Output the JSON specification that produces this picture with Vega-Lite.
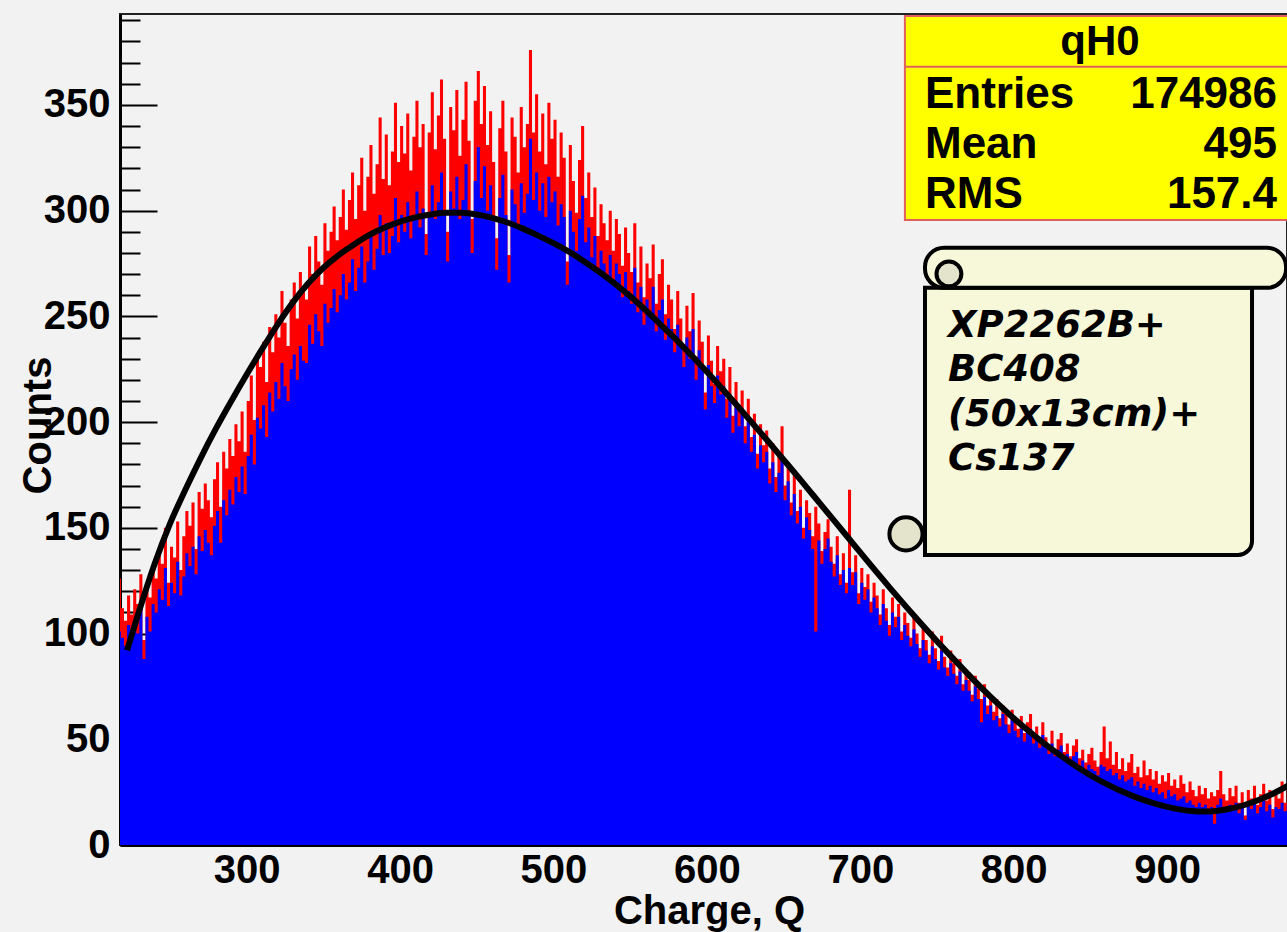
{
"$schema": "https://vega.github.io/schema/vega-lite/v6.json",
"width": 1167, "height": 831,
"autosize": "none",
"padding": {"left": 120, "top": 14, "right": 0, "bottom": 87},
"background": "#f2f2f2",
"config": {
 "view": {"fill": "#f2f2f2", "stroke": "#222222", "strokeWidth": 2},
 "axis": {"labelFont": "Liberation Sans", "labelFontWeight": "bold", "labelFontSize": 40, "labelColor": "#000000",
  "titleFont": "Liberation Sans", "titleFontWeight": "bold", "titleFontSize": 40, "titleColor": "#000000",
  "domainColor": "#000000", "domainWidth": 3, "tickColor": "#000000", "tickWidth": 2, "grid": false, "zindex": 1, "labelFlush": false, "labelOverlap": false}
},
"datasets": {
"hist": [
{"q":216,"r":126,"b":101},{"q":218,"r":112,"b":98},{"q":220,"r":106,"b":94},{"q":222,"r":118,"b":104},{"q":224,"r":109,"b":97},
{"q":226,"r":121,"b":106},{"q":228,"r":114,"b":100},{"q":230,"r":128,"b":112},{"q":232,"r":97,"b":88},{"q":234,"r":122,"b":108},
{"q":236,"r":117,"b":101},{"q":238,"r":131,"b":114},{"q":240,"r":126,"b":110},{"q":242,"r":138,"b":121},{"q":244,"r":133,"b":116},
{"q":246,"r":150,"b":131},{"q":248,"r":124,"b":113},{"q":250,"r":141,"b":124},{"q":252,"r":136,"b":119},{"q":254,"r":153,"b":134},
{"q":256,"r":130,"b":118},{"q":258,"r":146,"b":127},{"q":260,"r":158,"b":138},{"q":262,"r":151,"b":132},{"q":264,"r":162,"b":141},
{"q":266,"r":140,"b":128},{"q":268,"r":167,"b":146},{"q":270,"r":159,"b":139},{"q":272,"r":171,"b":149},{"q":274,"r":163,"b":143},
{"q":276,"r":155,"b":137},{"q":278,"r":173,"b":151},{"q":280,"r":181,"b":158},{"q":282,"r":160,"b":143},{"q":284,"r":186,"b":163},
{"q":286,"r":178,"b":156},{"q":288,"r":192,"b":168},{"q":290,"r":184,"b":161},{"q":292,"r":199,"b":174},{"q":294,"r":191,"b":167},
{"q":296,"r":205,"b":179},{"q":298,"r":186,"b":166},{"q":300,"r":210,"b":184},{"q":302,"r":222,"b":194},{"q":304,"r":201,"b":180},
{"q":306,"r":231,"b":202},{"q":308,"r":226,"b":197},{"q":310,"r":238,"b":208},{"q":312,"r":219,"b":193},{"q":314,"r":245,"b":214},
{"q":316,"r":233,"b":205},{"q":318,"r":251,"b":219},{"q":320,"r":240,"b":211},{"q":322,"r":262,"b":228},{"q":324,"r":247,"b":217},
{"q":326,"r":236,"b":210},{"q":328,"r":258,"b":225},{"q":330,"r":266,"b":232},{"q":332,"r":249,"b":220},{"q":334,"r":271,"b":236},
{"q":336,"r":262,"b":229},{"q":338,"r":258,"b":228},{"q":340,"r":283,"b":246},{"q":342,"r":270,"b":237},{"q":344,"r":288,"b":251},
{"q":346,"r":276,"b":243},{"q":348,"r":265,"b":236},{"q":350,"r":294,"b":256},{"q":352,"r":281,"b":247},{"q":354,"r":290,"b":254},
{"q":356,"r":302,"b":263},{"q":358,"r":286,"b":252},{"q":360,"r":297,"b":260},{"q":362,"r":310,"b":270},{"q":364,"r":291,"b":258},
{"q":366,"r":305,"b":266},{"q":368,"r":318,"b":277},{"q":370,"r":296,"b":262},{"q":372,"r":312,"b":273},{"q":374,"r":325,"b":283},
{"q":376,"r":300,"b":266},{"q":378,"r":316,"b":276},{"q":380,"r":331,"b":289},{"q":382,"r":308,"b":272},{"q":384,"r":322,"b":282},
{"q":386,"r":344,"b":298},{"q":388,"r":315,"b":279},{"q":390,"r":336,"b":294},{"q":392,"r":312,"b":280},{"q":394,"r":328,"b":288},
{"q":396,"r":351,"b":306},{"q":398,"r":323,"b":285},{"q":400,"r":340,"b":298},{"q":402,"r":327,"b":290},{"q":404,"r":346,"b":304},
{"q":406,"r":319,"b":287},{"q":408,"r":335,"b":296},{"q":410,"r":352,"b":309},{"q":412,"r":330,"b":292},{"q":414,"r":341,"b":301},
{"q":416,"r":289,"b":279},{"q":418,"r":337,"b":298},{"q":420,"r":356,"b":312},{"q":422,"r":329,"b":296},{"q":424,"r":345,"b":304},
{"q":426,"r":362,"b":318},{"q":428,"r":334,"b":299},{"q":430,"r":290,"b":276},{"q":432,"r":349,"b":309},{"q":434,"r":338,"b":301},
{"q":436,"r":357,"b":316},{"q":438,"r":326,"b":296},{"q":440,"r":343,"b":305},{"q":442,"r":361,"b":322},{"q":444,"r":333,"b":300},
{"q":446,"r":296,"b":280},{"q":448,"r":352,"b":314},{"q":450,"r":366,"b":330},{"q":452,"r":341,"b":306},{"q":454,"r":359,"b":321},
{"q":456,"r":331,"b":300},{"q":458,"r":347,"b":312},{"q":460,"r":323,"b":295},{"q":462,"r":287,"b":272},{"q":464,"r":339,"b":306},
{"q":466,"r":352,"b":317},{"q":468,"r":328,"b":298},{"q":470,"r":279,"b":266},{"q":472,"r":344,"b":310},{"q":474,"r":335,"b":303},
{"q":476,"r":318,"b":292},{"q":478,"r":349,"b":313},{"q":480,"r":330,"b":299},{"q":482,"r":341,"b":308},{"q":484,"r":376,"b":334},
{"q":486,"r":337,"b":305},{"q":488,"r":355,"b":318},{"q":490,"r":328,"b":300},{"q":492,"r":346,"b":313},{"q":494,"r":322,"b":297},
{"q":496,"r":351,"b":316},{"q":498,"r":334,"b":304},{"q":500,"r":343,"b":309},{"q":502,"r":316,"b":293},{"q":504,"r":337,"b":303},
{"q":506,"r":325,"b":297},{"q":508,"r":276,"b":265},{"q":510,"r":331,"b":300},{"q":512,"r":314,"b":290},{"q":514,"r":299,"b":281},
{"q":516,"r":324,"b":296},{"q":518,"r":340,"b":307},{"q":520,"r":306,"b":285},{"q":522,"r":318,"b":292},{"q":524,"r":297,"b":278},
{"q":526,"r":311,"b":288},{"q":528,"r":288,"b":272},{"q":530,"r":303,"b":281},{"q":532,"r":294,"b":275},{"q":534,"r":286,"b":268},
{"q":536,"r":300,"b":279},{"q":538,"r":281,"b":265},{"q":540,"r":296,"b":275},{"q":542,"r":289,"b":270},{"q":544,"r":274,"b":259},
{"q":546,"r":292,"b":271},{"q":548,"r":280,"b":262},{"q":550,"r":271,"b":256},{"q":552,"r":294,"b":273},{"q":554,"r":266,"b":252},
{"q":556,"r":283,"b":264},{"q":558,"r":259,"b":246},{"q":560,"r":275,"b":258},{"q":562,"r":268,"b":251},{"q":564,"r":284,"b":264},
{"q":566,"r":256,"b":243},{"q":568,"r":270,"b":253},{"q":570,"r":277,"b":258},{"q":572,"r":251,"b":239},{"q":574,"r":265,"b":249},
{"q":576,"r":258,"b":244},{"q":578,"r":244,"b":233},{"q":580,"r":262,"b":246},{"q":582,"r":249,"b":236},{"q":584,"r":236,"b":226},
{"q":586,"r":255,"b":240},{"q":588,"r":243,"b":230},{"q":590,"r":261,"b":244},{"q":592,"r":231,"b":220},{"q":594,"r":248,"b":234},
{"q":596,"r":238,"b":226},{"q":598,"r":214,"b":206},{"q":600,"r":241,"b":227},{"q":602,"r":229,"b":217},{"q":604,"r":218,"b":209},
{"q":606,"r":236,"b":222},{"q":608,"r":224,"b":213},{"q":610,"r":230,"b":217},{"q":612,"r":211,"b":202},{"q":614,"r":226,"b":213},
{"q":616,"r":203,"b":195},{"q":618,"r":219,"b":207},{"q":620,"r":207,"b":198},{"q":622,"r":215,"b":204},{"q":624,"r":198,"b":190},
{"q":626,"r":211,"b":200},{"q":628,"r":193,"b":186},{"q":630,"r":204,"b":194},{"q":632,"r":185,"b":178},{"q":634,"r":199,"b":189},
{"q":636,"r":189,"b":181},{"q":638,"r":196,"b":186},{"q":640,"r":178,"b":171},{"q":642,"r":190,"b":181},{"q":644,"r":174,"b":167},
{"q":646,"r":186,"b":176},{"q":648,"r":198,"b":184},{"q":650,"r":170,"b":163},{"q":652,"r":181,"b":172},{"q":654,"r":162,"b":156},
{"q":656,"r":175,"b":166},{"q":658,"r":158,"b":152},{"q":660,"r":168,"b":160},{"q":662,"r":150,"b":145},{"q":664,"r":163,"b":155},
{"q":666,"r":157,"b":149},{"q":668,"r":146,"b":140},{"q":670,"r":160,"b":101},{"q":672,"r":152,"b":144},{"q":674,"r":139,"b":133},
{"q":676,"r":148,"b":140},{"q":678,"r":154,"b":145},{"q":680,"r":141,"b":134},{"q":682,"r":133,"b":127},{"q":684,"r":146,"b":137},
{"q":686,"r":128,"b":123},{"q":688,"r":138,"b":130},{"q":690,"r":124,"b":119},{"q":692,"r":168,"b":131},{"q":694,"r":129,"b":123},
{"q":696,"r":137,"b":129},{"q":698,"r":119,"b":114},{"q":700,"r":131,"b":124},{"q":702,"r":122,"b":116},{"q":704,"r":128,"b":121},
{"q":706,"r":115,"b":110},{"q":708,"r":124,"b":117},{"q":710,"r":118,"b":112},{"q":712,"r":109,"b":104},{"q":714,"r":121,"b":114},
{"q":716,"r":112,"b":106},{"q":718,"r":104,"b":99},{"q":720,"r":117,"b":110},{"q":722,"r":108,"b":103},{"q":724,"r":114,"b":108},
{"q":726,"r":101,"b":97},{"q":728,"r":110,"b":104},{"q":730,"r":105,"b":99},{"q":732,"r":98,"b":94},{"q":734,"r":109,"b":102},
{"q":736,"r":100,"b":95},{"q":738,"r":93,"b":89},{"q":740,"r":104,"b":97},{"q":742,"r":97,"b":92},{"q":744,"r":90,"b":86},
{"q":746,"r":101,"b":94},{"q":748,"r":93,"b":88},{"q":750,"r":87,"b":83},{"q":752,"r":99,"b":92},{"q":754,"r":89,"b":84},
{"q":756,"r":84,"b":80},{"q":758,"r":92,"b":86},{"q":760,"r":86,"b":81},{"q":762,"r":80,"b":76},{"q":764,"r":88,"b":82},
{"q":766,"r":76,"b":73},{"q":768,"r":83,"b":78},{"q":770,"r":78,"b":73},{"q":772,"r":71,"b":68},{"q":774,"r":80,"b":75},
{"q":776,"r":74,"b":69},{"q":778,"r":69,"b":58},{"q":780,"r":76,"b":70},{"q":782,"r":66,"b":62},{"q":784,"r":71,"b":66},
{"q":786,"r":63,"b":59},{"q":788,"r":69,"b":61},{"q":790,"r":60,"b":56},{"q":792,"r":66,"b":62},{"q":794,"r":62,"b":57},
{"q":796,"r":57,"b":53},{"q":798,"r":64,"b":59},{"q":800,"r":59,"b":54},{"q":802,"r":55,"b":51},{"q":804,"r":61,"b":55},
{"q":806,"r":53,"b":49},{"q":808,"r":58,"b":53},{"q":810,"r":62,"b":55},{"q":812,"r":52,"b":48},{"q":814,"r":56,"b":51},
{"q":816,"r":49,"b":46},{"q":818,"r":58,"b":52},{"q":820,"r":51,"b":47},{"q":822,"r":47,"b":43},{"q":824,"r":54,"b":48},
{"q":826,"r":45,"b":42},{"q":828,"r":50,"b":45},{"q":830,"r":53,"b":47},{"q":832,"r":44,"b":41},{"q":834,"r":48,"b":43},
{"q":836,"r":42,"b":38},{"q":838,"r":47,"b":42},{"q":840,"r":50,"b":44},{"q":842,"r":41,"b":37},{"q":844,"r":45,"b":40},
{"q":846,"r":39,"b":35},{"q":848,"r":43,"b":38},{"q":850,"r":46,"b":36},{"q":852,"r":40,"b":35},{"q":854,"r":37,"b":33},
{"q":856,"r":44,"b":38},{"q":858,"r":56,"b":37},{"q":860,"r":41,"b":35},{"q":862,"r":49,"b":36},{"q":864,"r":38,"b":33},
{"q":866,"r":44,"b":34},{"q":868,"r":36,"b":31},{"q":870,"r":41,"b":33},{"q":872,"r":35,"b":30},{"q":874,"r":39,"b":31},
{"q":876,"r":43,"b":32},{"q":878,"r":34,"b":28},{"q":880,"r":37,"b":30},{"q":882,"r":32,"b":27},{"q":884,"r":40,"b":29},
{"q":886,"r":33,"b":26},{"q":888,"r":36,"b":28},{"q":890,"r":31,"b":25},{"q":892,"r":35,"b":27},{"q":894,"r":29,"b":24},
{"q":896,"r":33,"b":25},{"q":898,"r":30,"b":22},{"q":900,"r":34,"b":26},{"q":902,"r":28,"b":23},{"q":904,"r":31,"b":24},
{"q":906,"r":27,"b":21},{"q":908,"r":33,"b":22},{"q":910,"r":29,"b":23},{"q":912,"r":25,"b":20},{"q":914,"r":30,"b":21},
{"q":916,"r":26,"b":19},{"q":918,"r":23,"b":18},{"q":920,"r":28,"b":20},{"q":922,"r":24,"b":18},{"q":924,"r":27,"b":19},
{"q":926,"r":22,"b":17},{"q":928,"r":25,"b":18},{"q":930,"r":23,"b":10},{"q":932,"r":26,"b":19},{"q":934,"r":35,"b":22},
{"q":936,"r":24,"b":18},{"q":938,"r":21,"b":16},{"q":940,"r":27,"b":19},{"q":942,"r":23,"b":17},{"q":944,"r":28,"b":20},
{"q":946,"r":20,"b":15},{"q":948,"r":25,"b":18},{"q":950,"r":14,"b":12},{"q":952,"r":26,"b":19},{"q":954,"r":22,"b":17},
{"q":956,"r":28,"b":20},{"q":958,"r":19,"b":15},{"q":960,"r":24,"b":18},{"q":962,"r":29,"b":21},{"q":964,"r":21,"b":16},
{"q":966,"r":26,"b":19},{"q":968,"r":17,"b":13},{"q":970,"r":25,"b":18},{"q":972,"r":22,"b":17},{"q":974,"r":30,"b":20},
{"q":976,"r":20,"b":16},{"q":978,"r":27,"b":19},{"q":980,"r":24,"b":18}
],
"fit": [
{"q":222,"f":92},{"q":230,"f":111},{"q":240,"f":133},{"q":250,"f":152},{"q":260,"f":168},{"q":270,"f":183},{"q":280,"f":197},
{"q":290,"f":210},{"q":300,"f":222.5},{"q":310,"f":234.5},{"q":320,"f":246},{"q":330,"f":256.5},{"q":340,"f":265.5},{"q":350,"f":273},
{"q":360,"f":279},{"q":370,"f":284},{"q":380,"f":288.5},{"q":390,"f":292},{"q":400,"f":294.8},{"q":410,"f":296.8},{"q":420,"f":298.2},
{"q":430,"f":299},{"q":440,"f":299},{"q":450,"f":298.2},{"q":460,"f":296.6},{"q":470,"f":294.4},{"q":480,"f":291.5},{"q":490,"f":288.2},
{"q":500,"f":284.6},{"q":510,"f":280.6},{"q":520,"f":276},{"q":530,"f":271},{"q":540,"f":265.5},{"q":550,"f":259.5},{"q":560,"f":253},
{"q":570,"f":246},{"q":580,"f":239},{"q":590,"f":231.5},{"q":600,"f":223.8},{"q":610,"f":215.8},{"q":620,"f":207.6},{"q":630,"f":199.2},
{"q":640,"f":190.8},{"q":650,"f":182.2},{"q":660,"f":173.6},{"q":670,"f":164.8},{"q":680,"f":156},{"q":690,"f":147.2},{"q":700,"f":138.4},
{"q":710,"f":129.6},{"q":720,"f":121},{"q":730,"f":112.6},{"q":740,"f":104.4},{"q":750,"f":96.4},{"q":760,"f":88.6},{"q":770,"f":81},
{"q":780,"f":73.6},{"q":790,"f":66.6},{"q":800,"f":60},{"q":810,"f":53.8},{"q":820,"f":48},{"q":830,"f":42.6},{"q":840,"f":37.6},
{"q":850,"f":33},{"q":860,"f":29},{"q":870,"f":25.5},{"q":880,"f":22.5},{"q":890,"f":20},{"q":900,"f":18},{"q":910,"f":16.6},
{"q":920,"f":15.9},{"q":930,"f":16},{"q":940,"f":17},{"q":950,"f":18.8},{"q":960,"f":21.4},{"q":970,"f":24.6},{"q":980,"f":28.5}
]
},
"layer": [
 {"data": {"name": "hist"},
  "mark": {"type": "area", "interpolate": "step-after", "color": "#ff0000", "clip": true},
  "encoding": {
   "x": {"field": "q", "type": "quantitative", "scale": {"domain": [217.4, 978.2], "nice": false, "zero": false, "padding": 0},
    "axis": {"orient": "bottom", "values": [300,400,500,600,700,800,900], "tickSize": -26, "labelPadding": 63, "labelBaseline": "alphabetic",
     "title": "Charge, Q", "titleX": 589, "titleY": 78, "titleAlign": "center", "titleBaseline": "alphabetic", "titleAnchor": null}},
   "y": {"field": "r", "type": "quantitative", "scale": {"domain": [0, 393], "nice": false},
    "axis": {"orient": "left", "values": [0,50,100,150,200,250,300,350], "tickSize": -37, "labelPadding": 47,
     "title": "Counts", "titleX": -82, "titleY": 411, "titleAngle": 270, "titleAlign": "center", "titleBaseline": "middle"}}
  }},
 {"data": {"name": "hist"},
  "mark": {"type": "area", "interpolate": "step-after", "color": "#0000ff", "clip": true},
  "encoding": {
   "x": {"field": "q", "type": "quantitative",
    "axis": {"orient": "bottom", "values": [220,240,260,280,320,340,360,380,420,440,460,480,520,540,560,580,620,640,660,680,720,740,760,780,820,840,860,880,920,940,960], "tickSize": -13, "labels": false, "domain": false, "title": null}},
   "y": {"field": "b", "type": "quantitative",
    "axis": {"orient": "left", "values": [10,20,30,40,60,70,80,90,110,120,130,140,160,170,180,190,210,220,230,240,260,270,280,290,310,320,330,340,360,370,380,390], "tickSize": -20, "labels": false, "domain": false, "title": null}}
  }},
 {"data": {"name": "fit"},
  "mark": {"type": "line", "interpolate": "monotone", "color": "#000000", "strokeWidth": 6, "clip": true},
  "encoding": {
   "x": {"field": "q", "type": "quantitative", "axis": null},
   "y": {"field": "f", "type": "quantitative", "axis": null}
  }},
 {"data": {"values": [{}]},
  "mark": {"type": "rect", "fill": "#ffff00", "stroke": "#e06060", "strokeWidth": 2, "clip": false},
  "encoding": {
   "x": {"datum": 729.1, "type": "quantitative", "axis": null}, "x2": {"datum": 995},
   "y": {"datum": 392.1, "type": "quantitative", "axis": null}, "y2": {"datum": 295.6}
  }},
 {"data": {"values": [{}]},
  "mark": {"type": "rule", "stroke": "#e06060", "strokeWidth": 2, "clip": false},
  "encoding": {
   "x": {"datum": 729.1, "type": "quantitative", "axis": null}, "x2": {"datum": 995},
   "y": {"datum": 368, "type": "quantitative", "axis": null}
  }},
 {"data": {"values": [{}]},
  "mark": {"type": "text", "text": "qH0", "font": "Liberation Sans", "fontWeight": "bold", "fontSize": 42, "align": "center", "baseline": "alphabetic", "color": "#000000", "clip": false},
  "encoding": {
   "x": {"datum": 856.3, "type": "quantitative", "axis": null},
   "y": {"datum": 373.7, "type": "quantitative", "axis": null}
  }},
 {"data": {"values": [{}]},
  "mark": {"type": "text", "text": ["Entries", "Mean", "RMS"], "lineHeight": 50, "font": "Liberation Sans", "fontWeight": "bold", "fontSize": 44, "align": "left", "baseline": "alphabetic", "color": "#000000", "clip": false},
  "encoding": {
   "x": {"datum": 742.2, "type": "quantitative", "axis": null},
   "y": {"datum": 348.6, "type": "quantitative", "axis": null}
  }},
 {"data": {"values": [{}]},
  "mark": {"type": "text", "text": ["174986", "495", "157.4"], "lineHeight": 50, "font": "Liberation Sans", "fontWeight": "bold", "fontSize": 44, "align": "right", "baseline": "alphabetic", "color": "#000000", "clip": false},
  "encoding": {
   "x": {"datum": 971.7, "type": "quantitative", "axis": null},
   "y": {"datum": 348.6, "type": "quantitative", "axis": null}
  }},
 {"data": {"values": [{}]},
  "mark": {"type": "rect", "fill": "#f7f7da", "stroke": "#000000", "strokeWidth": 4, "cornerRadiusBottomRight": 14, "clip": false},
  "encoding": {
   "x": {"datum": 742.2, "type": "quantitative", "axis": null}, "x2": {"datum": 955.4},
   "y": {"datum": 263.5, "type": "quantitative", "axis": null}, "y2": {"datum": 137.2}
  }},
 {"data": {"values": [{}]},
  "mark": {"type": "rect", "fill": "#f7f7da", "stroke": "#000000", "strokeWidth": 4, "cornerRadius": 19, "clip": false},
  "encoding": {
   "x": {"datum": 742.2, "type": "quantitative", "axis": null}, "x2": {"datum": 977.6},
   "y": {"datum": 282.4, "type": "quantitative", "axis": null}, "y2": {"datum": 263.5}
  }},
 {"data": {"values": [{}]},
  "mark": {"type": "point", "shape": "circle", "filled": true, "fill": "#e4e4cc", "stroke": "#000000", "strokeWidth": 4, "size": 620, "opacity": 1, "clip": false},
  "encoding": {
   "x": {"datum": 757.8, "type": "quantitative", "axis": null},
   "y": {"datum": 270.1, "type": "quantitative", "axis": null}
  }},
 {"data": {"values": [{}]},
  "mark": {"type": "point", "shape": "circle", "filled": true, "fill": "#e4e4cc", "stroke": "#000000", "strokeWidth": 4, "size": 1100, "opacity": 1, "clip": false},
  "encoding": {
   "x": {"datum": 729.8, "type": "quantitative", "axis": null},
   "y": {"datum": 147.1, "type": "quantitative", "axis": null}
  }},
 {"data": {"values": [{}]},
  "mark": {"type": "text", "text": ["XP2262B+", "BC408", "(50x13cm)+", "Cs137"], "lineHeight": 44.5, "font": "DejaVu Sans", "fontWeight": "bold", "fontStyle": "italic", "fontSize": 37, "align": "left", "baseline": "alphabetic", "color": "#000000", "clip": false},
  "encoding": {
   "x": {"datum": 757.2, "type": "quantitative", "axis": null},
   "y": {"datum": 240.3, "type": "quantitative", "axis": null}
  }}
],
"resolve": {"axis": {"x": "independent", "y": "independent"}}
}
